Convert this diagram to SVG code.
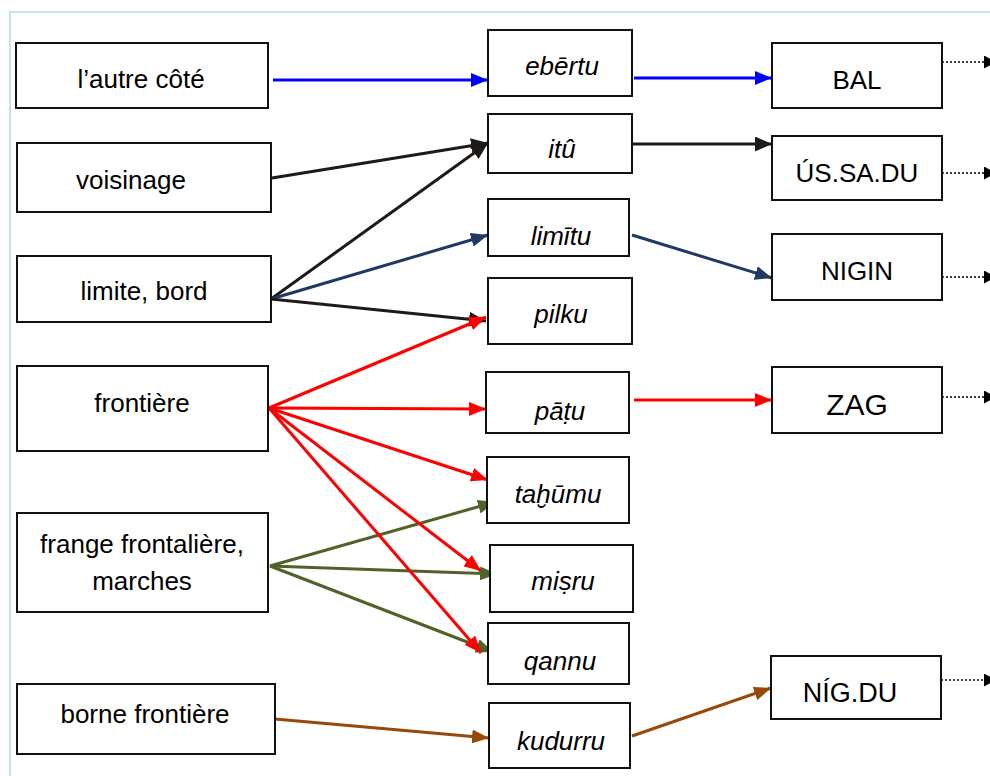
<svg xmlns="http://www.w3.org/2000/svg" width="990" height="776" viewBox="0 0 990 776">
<defs>
<style>
.box{fill:#ffffff;stroke:#111111;stroke-width:2}
.t{font-family:"Liberation Sans",Arial,sans-serif;font-size:26px;fill:#000;text-anchor:middle}
.i{font-style:italic}
.c{fill:none;stroke-width:3}
.dot{fill:none;stroke:#000;stroke-width:1.6;stroke-dasharray:2 2}
</style>
<marker id="mBlue" markerUnits="userSpaceOnUse" markerWidth="17" markerHeight="14" refX="17" refY="7" orient="auto"><path d="M0,0 L17,7 L0,14 Z" fill="#0000ff"/></marker>
<marker id="mBlack" markerUnits="userSpaceOnUse" markerWidth="17" markerHeight="15" refX="17" refY="7.5" orient="auto"><path d="M0,0 L17,7.5 L0,15 Z" fill="#1f1a17"/></marker>
<marker id="mNavy" markerUnits="userSpaceOnUse" markerWidth="17" markerHeight="14" refX="17" refY="7" orient="auto"><path d="M0,0 L17,7 L0,14 Z" fill="#1f3864"/></marker>
<marker id="mRed" markerUnits="userSpaceOnUse" markerWidth="17" markerHeight="14" refX="17" refY="7" orient="auto"><path d="M0,0 L17,7 L0,14 Z" fill="#ff0000"/></marker>
<marker id="mGreen" markerUnits="userSpaceOnUse" markerWidth="17" markerHeight="14" refX="17" refY="7" orient="auto"><path d="M0,0 L17,7 L0,14 Z" fill="#4f6228"/></marker>
<marker id="mBrown" markerUnits="userSpaceOnUse" markerWidth="17" markerHeight="14" refX="17" refY="7" orient="auto"><path d="M0,0 L17,7 L0,14 Z" fill="#984807"/></marker>
<marker id="mDot" markerUnits="userSpaceOnUse" markerWidth="12" markerHeight="13" refX="12" refY="6.5" orient="auto"><path d="M0,0 L12,6.5 L0,13 Z" fill="#000"/></marker>
</defs>
<rect x="0" y="0" width="990" height="776" fill="#ffffff"/>
<rect x="10" y="12" width="1000" height="800" fill="none" stroke="#c5e1ea" stroke-width="2"/>

<g id="connectors">
<line class="c" x1="273" y1="80" x2="488" y2="80" stroke="#0000ff" marker-end="url(#mBlue)"/>
<line class="c" x1="634" y1="78" x2="772" y2="78" stroke="#0000ff" marker-end="url(#mBlue)"/>
<line class="c" x1="272" y1="178" x2="488" y2="143" stroke="#1f1a17" stroke-width="3.5" marker-end="url(#mBlack)"/>
<line class="c" x1="632" y1="144" x2="772" y2="144" stroke="#1f1a17" stroke-width="3.5" marker-end="url(#mBlack)"/>
<line class="c" x1="271" y1="299" x2="488" y2="143" stroke="#1f1a17" stroke-width="3.5" marker-end="url(#mBlack)"/>
<line class="c" x1="271" y1="299" x2="488" y2="235" stroke="#1f3864" marker-end="url(#mNavy)"/>
<line class="c" x1="632" y1="235" x2="772" y2="278" stroke="#1f3864" marker-end="url(#mNavy)"/>
<line class="c" x1="271" y1="299" x2="486" y2="321" stroke="#1f1a17" stroke-width="1.5" marker-end="url(#mBlack)"/>
<line class="c" x1="269" y1="408" x2="486" y2="317" stroke="#ff0000" marker-end="url(#mRed)"/>
<line class="c" x1="269" y1="408" x2="486" y2="409" stroke="#ff0000" marker-end="url(#mRed)"/>
<line class="c" x1="269" y1="408" x2="488" y2="480" stroke="#ff0000" marker-end="url(#mRed)"/>
<line class="c" x1="634" y1="400" x2="772" y2="400" stroke="#ff0000" marker-end="url(#mRed)"/>
<line class="c" x1="270" y1="566" x2="495" y2="502" stroke="#4f6228" marker-end="url(#mGreen)"/>
<line class="c" x1="269" y1="408" x2="481" y2="571" stroke="#ff0000" marker-end="url(#mRed)"/>
<line class="c" x1="270" y1="566" x2="497" y2="574" stroke="#4f6228" marker-end="url(#mGreen)"/>
<line class="c" x1="270" y1="566" x2="493" y2="652" stroke="#4f6228" marker-end="url(#mGreen)"/>
<line class="c" x1="269" y1="408" x2="481" y2="653" stroke="#ff0000" marker-end="url(#mRed)"/>
<line class="c" x1="275" y1="719" x2="489" y2="738" stroke="#984807" marker-end="url(#mBrown)"/>
<line class="c" x1="632" y1="736" x2="771" y2="688" stroke="#984807" marker-end="url(#mBrown)"/>
<line class="dot" x1="942" y1="62" x2="996" y2="62" marker-end="url(#mDot)"/>
<line class="dot" x1="942" y1="173" x2="996" y2="173" marker-end="url(#mDot)"/>
<line class="dot" x1="942" y1="277" x2="996" y2="277" marker-end="url(#mDot)"/>
<line class="dot" x1="938" y1="397" x2="996" y2="397" marker-end="url(#mDot)"/>
<line class="dot" x1="941" y1="680" x2="996" y2="680" marker-end="url(#mDot)"/>
</g>

<g id="n-autre"><rect class="box" x="16" y="43" width="252" height="65"/><text class="t" x="141" y="88">l’autre côté</text></g>
<g id="n-voisinage"><rect class="box" x="17" y="143" width="254" height="69"/><text class="t" x="131" y="189">voisinage</text></g>
<g id="n-limite"><rect class="box" x="17" y="256" width="254" height="66"/><text class="t" x="144" y="300">limite, bord</text></g>
<g id="n-frontiere"><rect class="box" x="17" y="366" width="251" height="85"/><text class="t" x="142" y="412">frontière</text></g>
<g id="n-frange"><rect class="box" x="17" y="513" width="251" height="99"/><text class="t" x="142" y="553">frange frontalière,</text><text class="t" x="142" y="590">marches</text></g>
<g id="n-borne"><rect class="box" x="17" y="684" width="258" height="70"/><text class="t" x="145" y="723">borne frontière</text></g>

<g id="n-ebertu"><rect class="box" x="488" y="30" width="144" height="66"/><text class="t i" x="562" y="75">ebērtu</text></g>
<g id="n-itu"><rect class="box" x="488" y="114" width="144" height="59"/><text class="t i" x="562" y="158">itû</text></g>
<g id="n-limitu"><rect class="box" x="488" y="199" width="141" height="57"/><text class="t i" x="561" y="245">limītu</text></g>
<g id="n-pilku"><rect class="box" x="488" y="278" width="144" height="66"/><text class="t i" x="561" y="323">pilku</text></g>
<g id="n-patu"><rect class="box" x="486" y="372" width="143" height="61"/><text class="t i" x="560" y="420">pāṭu</text></g>
<g id="n-tahumu"><rect class="box" x="487" y="457" width="142" height="66"/><text class="t i" x="558" y="503">taḫūmu</text></g>
<g id="n-misru"><rect class="box" x="490" y="545" width="143" height="67"/><text class="t i" x="563" y="590">miṣru</text></g>
<g id="n-qannu"><rect class="box" x="488" y="623" width="141" height="61"/><text class="t i" x="560" y="670">qannu</text></g>
<g id="n-kudurru"><rect class="box" x="489" y="703" width="141" height="65"/><text class="t i" x="561" y="750">kudurru</text></g>

<g id="n-bal"><rect class="box" x="772" y="43" width="170" height="65"/><text class="t" x="857" y="89">BAL</text></g>
<g id="n-ussadu"><rect class="box" x="772" y="136" width="170" height="64"/><text class="t" x="857" y="182">ÚS.SA.DU</text></g>
<g id="n-nigin"><rect class="box" x="772" y="234" width="170" height="66"/><text class="t" x="857" y="280">NIGIN</text></g>
<g id="n-zag"><rect class="box" x="772" y="367" width="170" height="66"/><text class="t" x="857" y="415" style="font-size:30px">ZAG</text></g>
<g id="n-nigdu"><rect class="box" x="771" y="656" width="170" height="63"/><text class="t" x="850" y="702" style="font-size:27px">NÍG.DU</text></g>
</svg>
